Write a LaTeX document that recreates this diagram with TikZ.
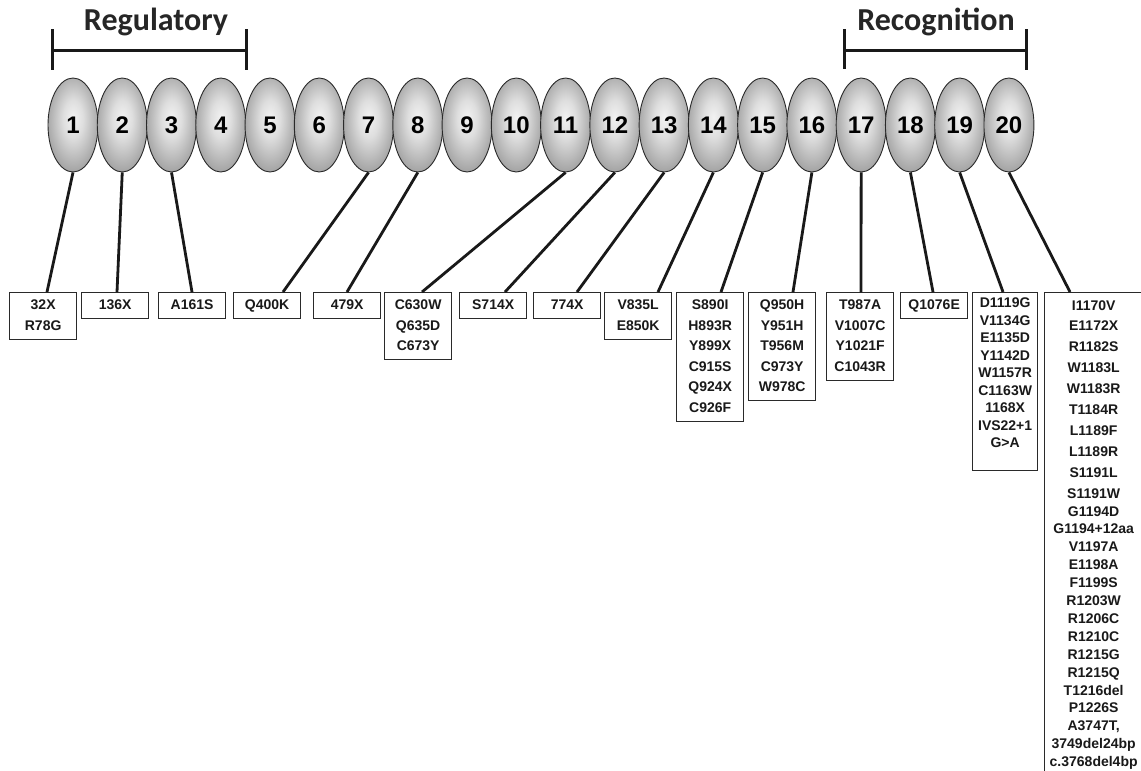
\documentclass[tikz,border=0pt]{standalone}
\usepackage{fontspec}
\setmainfont{Liberation Sans}
\newfontfamily\headfont{Carlito}
\usetikzlibrary{shapes.geometric}
\definecolor{lobelight}{HTML}{F2F2F2}
\definecolor{lobedark}{HTML}{6E6E6E}
\definecolor{inkline}{HTML}{2A2A2A}
\pgfdeclareradialshading{lobeshade}{\pgfpoint{0bp}{4bp}}{color(0bp)=(lobelight); color(10bp)=(lobelight!85!lobedark); color(42bp)=(lobedark); color(50bp)=(lobedark!90!black)}
\tikzset{
  lobe/.style={ellipse, draw=inkline, line width=0.9pt, shading=lobeshade, minimum width=50pt, minimum height=94pt, inner sep=0pt, text height=17.5pt, text depth=0pt, font=\bfseries\fontsize{24}{24}\selectfont},
  mutbox/.style={draw=inkline, line width=1.3pt, fill=white, anchor=north west, minimum width=67pt, inner xsep=0pt, inner ysep=2.75pt, align=center, text=black!90, font=\bfseries\fontsize{14}{20.5}\selectfont, execute at end node=\strut},
  stalk/.style={line width=2.8pt, black!90},
  bracket/.style={line width=3pt, black!90},
  domlabel/.style={font=\headfont\bfseries\fontsize{32}{32}\selectfont, text=black!85}
}
\begin{document}
\begin{tikzpicture}[x=1pt,y=-1pt]
\useasboundingbox (0,0) rectangle (1141,771);
\clip (0,0) rectangle (1141,771);
% domain brackets
\coordinate (regA) at (52,50);
\coordinate (regB) at (246,50);
\coordinate (recA) at (844,50);
\coordinate (recB) at (1026,50);
\draw[bracket] (regA) ++(0,-21) -- ++(0,41) (regA) -- (regB) ++(0,-21) -- ++(0,41);
\draw[bracket] (recA) ++(0,-21) -- ++(0,40) (recA) -- (recB) ++(0,-21) -- ++(0,41);
\node[domlabel] (reg) at (156,22) {Regulatory};
\node[domlabel] (rec) at (936,22) {Recognition};
% repeats
\foreach \i in {1,...,20}
  \node[lobe] (d\i) at ({73+49.26*(\i-1)},125) {\i};
% mutation boxes
\node[mutbox] (m1) at (9,292) {\strut 32X\\R78G};
\node[mutbox] (m2) at (81,292) {\strut 136X};
\node[mutbox] (m3) at (158,292) {\strut A161S};
\node[mutbox] (m7) at (233,292) {\strut Q400K};
\node[mutbox] (m8) at (313,292) {\strut 479X};
\node[mutbox] (m11) at (384,292) {\strut C630W\\Q635D\\C673Y};
\node[mutbox] (m12) at (459,292) {\strut S714X};
\node[mutbox] (m13) at (533,292) {\strut 774X};
\node[mutbox] (m14) at (604,292) {\strut V835L\\E850K};
\node[mutbox] (m15) at (676,292) {\strut S890I\\H893R\\Y899X\\C915S\\Q924X\\C926F};
\node[mutbox] (m16) at (748,292) {\strut Q950H\\Y951H\\T956M\\C973Y\\W978C};
\node[mutbox] (m17) at (826,292) {\strut T987A\\V1007C\\Y1021F\\C1043R};
\node[mutbox] (m18) at (900,292) {\strut Q1076E};
\node[mutbox, minimum width=65pt, font=\bfseries\fontsize{14}{17.5}\selectfont] (m19) at (972,292)
  {\strut D1119G\\V1134G\\E1135D\\Y1142D\\W1157R\\C1163W\\1168X\\IVS22+1\\G>A\rule[-20pt]{0pt}{1pt}};
\node[mutbox, minimum width=98pt, font=\bfseries\fontsize{14}{20.9}\selectfont] (m20) at (1044,292)
  {\strut I1170V\\E1172X\\R1182S\\W1183L\\W1183R\\T1184R\\L1189F\\L1189R\\S1191L\\S1191W\\[-3pt]
   G1194D\\[-3pt]G1194+12aa\\[-3pt]V1197A\\[-3pt]E1198A\\[-3pt]F1199S\\[-3pt]R1203W\\[-3pt]R1206C\\[-3pt]
   R1210C\\[-3pt]R1215G\\[-3pt]R1215Q\\[-3pt]T1216del\\[-3pt]P1226S\\[-3pt]A3747T,\\[-3pt]
   3749del24bp\\[-3pt]c.3768del4bp};
% stalks
\foreach \i/\dx in {1/38,2/36,3/34,7/50,8/34,11/38,12/46,13/44,14/54,15/45,16/45,17/35,18/33,19/31,20/26}
  \draw[stalk] (d\i.south) -- ([xshift=\dx pt]m\i.north west);
\end{tikzpicture}
\end{document}
